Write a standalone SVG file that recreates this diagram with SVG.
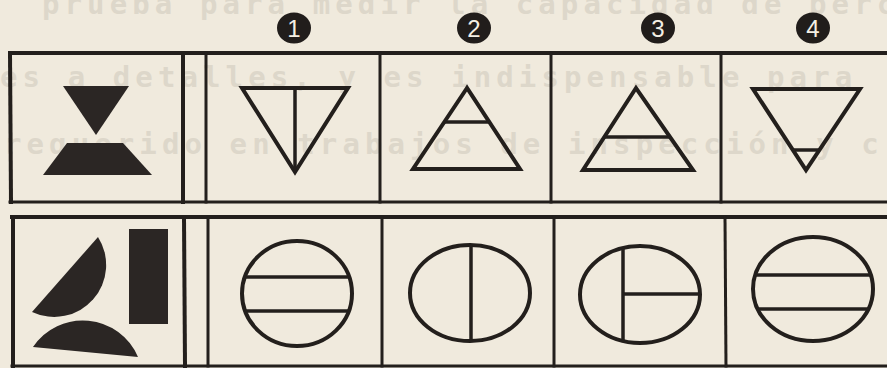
<svg xmlns="http://www.w3.org/2000/svg" width="887" height="368" viewBox="0 0 887 368">
  <style>
    .bg { fill: #f0eadd; }
    .ghost { font-family: "DejaVu Sans Mono", "Liberation Mono", monospace; font-weight: bold; font-size: 29px; letter-spacing: 5.1px; fill: #ddd7ca; }
    .grid line { stroke: #231f1c; stroke-width: 3; stroke-linecap: square; }
    .thick { stroke-width: 4 !important; }
    .fig { fill: none; stroke: #231f1c; stroke-width: 4; stroke-linejoin: miter; }
    .bar { stroke: #231f1c; stroke-width: 3.5; }
    .solid { fill: #2b2624; }
    .badge ellipse { fill: #211d1b; }
    .badge text { font-family: "Liberation Sans", Arial, sans-serif; font-size: 24px; fill: #f4efe4; text-anchor: middle; }
  </style>
  <rect class="bg" x="0" y="0" width="887" height="368"/>

  <g id="ghost-text">
    <text class="ghost" x="42" y="14">prueba para medir la capacidad de perc</text>
    <text class="ghost" x="0" y="87">es a detalles, y es indispensable para</text>
    <text class="ghost" x="4" y="154">requerido en trabajos de inspección y c</text>
  </g>

  <g id="badges" class="badge">
    <g id="badge-1"><ellipse cx="294" cy="28" rx="17" ry="15.5"/><text x="294" y="36.5">1</text></g>
    <g id="badge-2"><ellipse cx="474" cy="28" rx="17" ry="15.5"/><text x="474" y="36.5">2</text></g>
    <g id="badge-3"><ellipse cx="658" cy="28" rx="17" ry="15.5"/><text x="658" y="36.5">3</text></g>
    <g id="badge-4"><ellipse cx="813" cy="28" rx="17" ry="15.5"/><text x="813" y="36.5">4</text></g>
  </g>

  <g id="grid" class="grid">
    <line class="thick" x1="10" y1="53" x2="887" y2="53"/>
    <line x1="10" y1="202" x2="887" y2="202"/>
    <line class="thick" x1="10" y1="53" x2="11" y2="202"/>
    <line class="thick" x1="183" y1="53" x2="183" y2="202"/>
    <line x1="206" y1="53" x2="206" y2="202"/>
    <line x1="380" y1="53" x2="380" y2="202"/>
    <line x1="551" y1="53" x2="551" y2="202"/>
    <line x1="721" y1="53" x2="721" y2="202"/>
    <line class="thick" x1="12" y1="217" x2="887" y2="217"/>
    <line x1="12" y1="366" x2="887" y2="366"/>
    <line class="thick" x1="13" y1="217" x2="13" y2="366"/>
    <line class="thick" x1="184" y1="217" x2="185" y2="366"/>
    <line x1="208" y1="217" x2="208" y2="366"/>
    <line x1="382" y1="217" x2="382" y2="366"/>
    <line x1="554" y1="217" x2="554" y2="366"/>
    <line x1="725" y1="217" x2="726" y2="366"/>
  </g>

  <g id="model-1">
    <polygon class="solid" points="63,86 129,86 96,135"/>
    <polygon class="solid" points="67,143 123,143 152,175 43,175"/>
  </g>
  <g id="option-1-1">
    <polygon class="fig" points="242,88 348,88 295,172"/>
    <line class="bar" x1="295" y1="88" x2="295" y2="172"/>
  </g>
  <g id="option-1-2">
    <polygon class="fig" points="467,88 413,169 520,169"/>
    <line class="bar" x1="444" y1="122" x2="490" y2="122"/>
  </g>
  <g id="option-1-3">
    <polygon class="fig" points="636,88 583,170 693,170"/>
    <line class="bar" x1="604" y1="137" x2="670" y2="137"/>
  </g>
  <g id="option-1-4">
    <polygon class="fig" points="753,89 860,89 806,170"/>
    <line class="bar" x1="793" y1="150" x2="819" y2="150"/>
  </g>

  <g id="model-2">
    <path class="solid" d="M98,237 A52,52 0 0 1 32,312 Z"/>
    <path class="solid" d="M33,347 A60,60 0 0 1 138,357 Z"/>
    <rect class="solid" x="129" y="229" width="39" height="95"/>
  </g>
  <g id="option-2-1">
    <ellipse class="fig" cx="297" cy="293.5" rx="55" ry="52.5"/>
    <line class="bar" x1="244" y1="277" x2="350" y2="277"/>
    <line class="bar" x1="245" y1="311" x2="349" y2="311"/>
  </g>
  <g id="option-2-2">
    <ellipse class="fig" cx="470" cy="293" rx="60" ry="48"/>
    <line class="bar" x1="471" y1="245" x2="471" y2="341"/>
  </g>
  <g id="option-2-3">
    <ellipse class="fig" cx="640" cy="294.5" rx="60" ry="48.5"/>
    <line class="bar" x1="623" y1="248" x2="623" y2="341"/>
    <line class="bar" x1="623" y1="294" x2="700" y2="294"/>
  </g>
  <g id="option-2-4">
    <ellipse class="fig" cx="813" cy="289" rx="60" ry="52"/>
    <line class="bar" x1="755" y1="275" x2="871" y2="275"/>
    <line class="bar" x1="758" y1="309" x2="868" y2="309"/>
  </g>
</svg>
